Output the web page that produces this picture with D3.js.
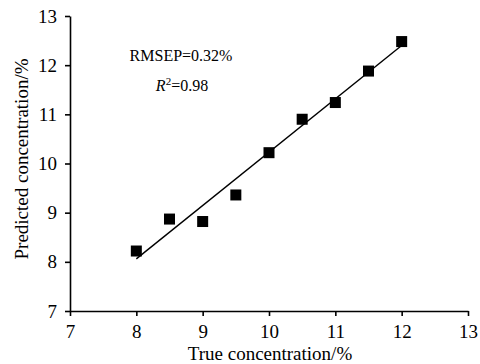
<!DOCTYPE html>
<html>
<head>
<meta charset="utf-8">
<script src="https://cdn.jsdelivr.net/npm/d3@7"></script>
<style>
  body { margin: 0; background: #fff; }
  svg text { font-family: "Liberation Serif", "Times New Roman", serif; fill: #000; }
</style>
</head>
<body>
<div id="chart"></div>
<script>
const trueConc = [8, 8.5, 9, 9.5, 10, 10.5, 11, 11.5, 12];
const predConc = [8.22, 8.87, 8.82, 9.36, 10.22, 10.9, 11.24, 11.88, 12.48];
const fitX = [8, 12];
const fitY = [8.06, 12.4];
const xTicks = [7, 8, 9, 10, 11, 12, 13];
const yTicks = [7, 8, 9, 10, 11, 12, 13];

const width = 480;
const height = 364;
const margin = { top: 16, right: 12, bottom: 53, left: 70 };

const svg = d3
  .select("#chart")
  .append("svg")
  .attr("width", width)
  .attr("height", height);

let x = d3
  .scaleLinear()
  .domain([7, 13])
  .range([margin.left, width - margin.right]);

let y = d3
  .scaleLinear()
  .domain([7, 13])
  .range([height - margin.bottom, margin.top]);

let xAxis = d3
  .axisBottom(x)
  .tickValues(xTicks)
  .tickFormat(d3.format("d"))
  .tickSize(5)
  .tickPadding(9)
  .tickSizeOuter(0);
let yAxis = d3
  .axisLeft(y)
  .tickValues(yTicks)
  .tickFormat(d3.format("d"))
  .tickSize(5)
  .tickPadding(8)
  .tickSizeOuter(0);

svg
  .append("g")
  .attr("class", "xAxis")
  .attr("transform", `translate(0, ${height - margin.bottom})`)
  .call(xAxis)
  .call((g) => g.selectAll("text").style("font-size", "19px").style("font-family", "Liberation Serif"));

svg
  .append("g")
  .attr("class", "yAxis")
  .attr("transform", `translate(${margin.left}, 0)`)
  .call(yAxis)
  .call((g) => g.selectAll("text").style("font-size", "19px").style("font-family", "Liberation Serif"));

svg.selectAll(".domain, .tick line").attr("stroke", "#000").attr("stroke-width", 1.6);

// fit line
svg
  .append("path")
  .datum(fitX.map((d, i) => [d, fitY[i]]))
  .attr("fill", "none")
  .attr("stroke", "#000")
  .attr("stroke-width", 1.4)
  .attr("d", d3.line().x((d) => x(d[0])).y((d) => y(d[1])));

// square markers
const size = 11;
svg
  .append("g")
  .selectAll("rect")
  .data(trueConc)
  .join("rect")
  .attr("x", (d) => x(d) - size / 2)
  .attr("y", (d, i) => y(predConc[i]) - size / 2)
  .attr("width", size)
  .attr("height", size)
  .attr("fill", "#000");

// annotations
svg
  .append("text")
  .attr("x", 181)
  .attr("y", 61)
  .attr("text-anchor", "middle")
  .style("font-size", "16px")
  .text("RMSEP=0.32%");

let r2 = svg
  .append("text")
  .attr("x", 182)
  .attr("y", 91)
  .attr("text-anchor", "middle")
  .style("font-size", "16px");
r2.append("tspan").style("font-style", "italic").text("R");
r2.append("tspan").attr("dy", -6).style("font-size", "11px").text("2");
r2.append("tspan").attr("dy", 6).text("=0.98");

// axis titles
svg
  .append("text")
  .attr("x", 270)
  .attr("y", height - 4)
  .attr("text-anchor", "middle")
  .style("font-size", "19px")
  .text("True concentration/%");

svg
  .append("text")
  .attr("transform", `translate(28, 159) rotate(-90)`)
  .attr("text-anchor", "middle")
  .style("font-size", "19px")
  .text("Predicted concentration/%");
</script>
</body>
</html>
